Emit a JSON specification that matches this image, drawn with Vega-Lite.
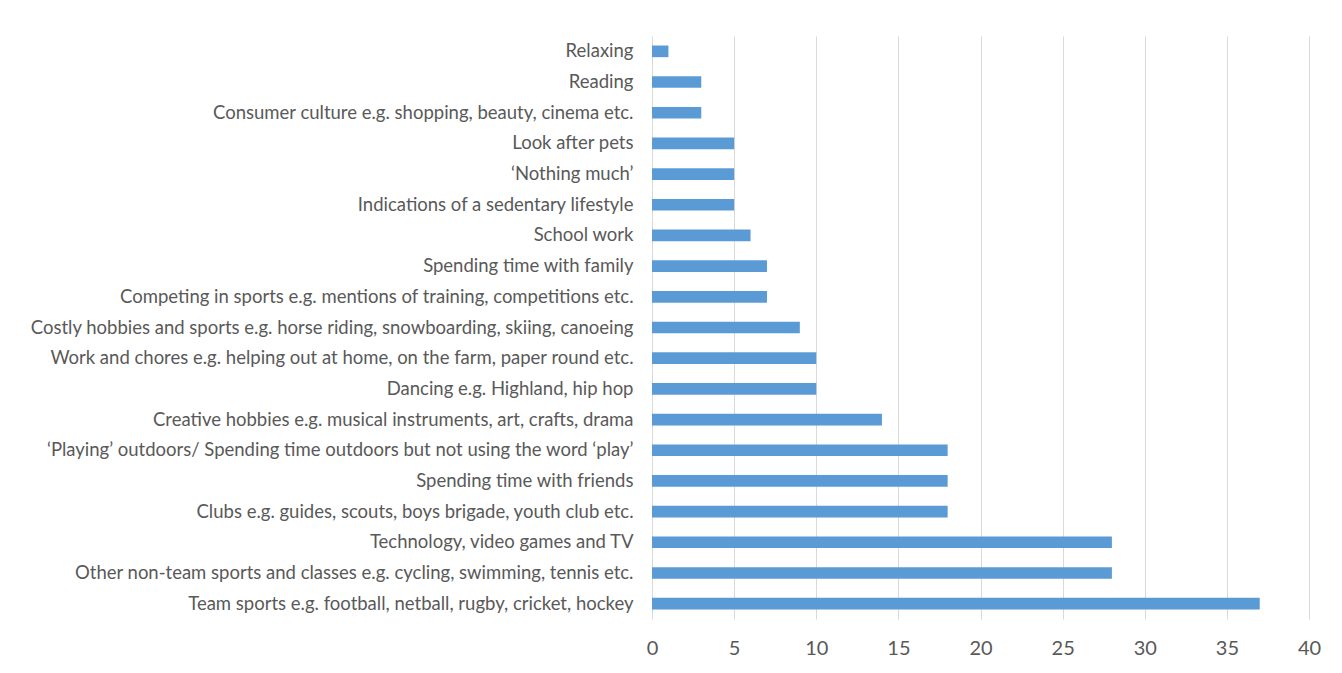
{
  "$schema": "https://vega.github.io/schema/vega-lite/v6.json",
  "autosize": {"type": "none"},
  "padding": {"left": 652, "top": 36, "right": 33, "bottom": 54},
  "width": 657,
  "height": 583,
  "background": "white",
  "config": {"view": {"stroke": null}},
  "data": {"values": [
    {"activity": "Relaxing", "count": 1},
    {"activity": "Reading", "count": 3},
    {"activity": "Consumer culture e.g. shopping, beauty, cinema etc.", "count": 3},
    {"activity": "Look after pets", "count": 5},
    {"activity": "‘Nothing much’", "count": 5},
    {"activity": "Indications of a sedentary lifestyle", "count": 5},
    {"activity": "School work", "count": 6},
    {"activity": "Spending time with family", "count": 7},
    {"activity": "Competing in sports e.g. mentions of training, competitions etc.", "count": 7},
    {"activity": "Costly hobbies and sports e.g. horse riding, snowboarding, skiing, canoeing", "count": 9},
    {"activity": "Work and chores e.g. helping out at home, on the farm, paper round etc.", "count": 10},
    {"activity": "Dancing e.g. Highland, hip hop", "count": 10},
    {"activity": "Creative hobbies e.g. musical instruments, art, crafts, drama", "count": 14},
    {"activity": "‘Playing’ outdoors/ Spending time outdoors but not using the word ‘play’", "count": 18},
    {"activity": "Spending time with friends", "count": 18},
    {"activity": "Clubs e.g. guides, scouts, boys brigade, youth club etc.", "count": 18},
    {"activity": "Technology, video games and TV", "count": 28},
    {"activity": "Other non-team sports and classes e.g. cycling, swimming, tennis etc.", "count": 28},
    {"activity": "Team sports e.g. football, netball, rugby, cricket, hockey", "count": 37}
  ]},
  "mark": {"type": "bar", "color": "#5b9bd5"},
  "encoding": {
    "y": {
      "field": "activity", "type": "nominal", "sort": null,
      "scale": {"paddingInner": 0.62, "paddingOuter": 0.31},
      "axis": {"title": null, "ticks": false, "domain": false, "labelPadding": 19,
               "labelFont": "Lato", "labelFontSize": 18.5, "labelColor": "#595959", "labelLimit": 700}
    },
    "x": {
      "field": "count", "type": "quantitative",
      "scale": {"domain": [0, 40], "nice": false},
      "axis": {"title": null, "values": [0,5,10,15,20,25,30,35,40], "ticks": false, "domain": false,
               "gridColor": "#d9d9d9", "gridWidth": 1, "labelPadding": 19, "labelFlush": false,
               "labelFont": "Lato", "labelFontSize": 20, "labelColor": "#595959"}
    }
  }
}
